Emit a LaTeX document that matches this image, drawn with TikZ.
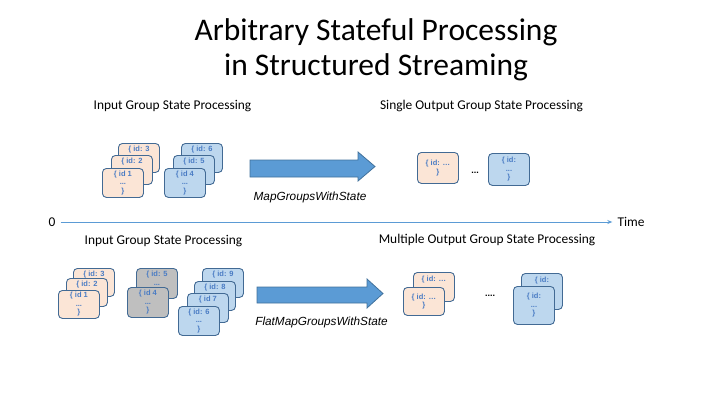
\documentclass[tikz,border=0pt]{standalone}
\usepackage{fontspec}
\setmainfont{Carlito}
\newfontfamily\arialfont{Liberation Sans}
\usetikzlibrary{arrows.meta}
\definecolor{cardborder}{RGB}{66,106,148}
\definecolor{cardtext}{RGB}{74,124,196}
\definecolor{peach}{RGB}{251,229,214}
\definecolor{lightblue}{RGB}{189,215,238}
\definecolor{midgray}{RGB}{191,191,191}
\definecolor{arrowfill}{RGB}{91,155,213}
\definecolor{arrowline}{RGB}{65,113,156}
\tikzset{
  cardfont/.style={font=\arialfont\bfseries\fontsize{7.5bp}{8.6bp}\selectfont, text=cardtext},
  card/.style={draw=cardborder, line width=0.9bp, rounded corners=4bp,
    minimum width=41bp, minimum height=29bp, inner sep=0.5bp, anchor=north west,
    align=center, cardfont},
  peachcard/.style={card, fill=peach},
  bluecard/.style={card, fill=lightblue},
  graycard/.style={card, fill=midgray},
  toplabel/.style={cardfont, anchor=north, inner sep=0pt, align=center},
  heading/.style={font=\fontsize{13.4bp}{16bp}\selectfont, text=black, inner sep=0pt},
  oplabel/.style={font=\arialfont\itshape\fontsize{11.8bp}{14bp}\selectfont, inner sep=0pt},
  bigarrow/.style={fill=arrowfill, draw=arrowline, line width=0.8bp},
  dotsstyle/.style={font=\arialfont\bfseries\fontsize{9bp}{10bp}\selectfont, inner sep=0pt},
}
\begin{document}
\begin{tikzpicture}[x=1bp,y=-1bp]
\useasboundingbox (0,0) rectangle (721,405);

% title
\node[font=\fontsize{31.5bp}{35bp}\selectfont, inner sep=0pt, anchor=base] (title1) at (376,40) {Arbitrary Stateful Processing};
\node[font=\fontsize{31.5bp}{35bp}\selectfont, inner sep=0pt, anchor=base] (title2) at (376,75) {in Structured Streaming};

% headings
\node[heading] (h1) at (172.5,106) {Input Group State Processing};
\node[heading] (h2) at (481.5,106) {Single Output Group State Processing};
\node[heading] (h3) at (163.5,241) {Input Group State Processing};
\node[heading] (h4) at (487,240) {Multiple Output Group State Processing};

% upper input stacks
\node[peachcard] (u3) at (118,143) {};
\node[toplabel] (u3t) at ([yshift=-3bp]u3.north) {\{ id: 3};
\node[peachcard] (u2) at (111,155) {};
\node[toplabel] (u2t) at ([yshift=-3bp]u2.north) {\{ id: 2};
\node[peachcard] (u1) at (102,168) {\{ id 1\\...\\\}};
\node[bluecard] (u6) at (181,143) {};
\node[toplabel] (u6t) at ([yshift=-3bp]u6.north) {\{ id: 6};
\node[bluecard] (u5) at (173,155) {};
\node[toplabel] (u5t) at ([yshift=-3bp]u5.north) {\{ id: 5};
\node[bluecard] (u4) at (164,168) {\{ id 4\\...\\\}};

% upper arrow
\draw[bigarrow] (250,160) -- (358,160) -- (358,152) -- (375,166.5) -- (358,181) -- (358,177) -- (250,177) -- cycle;
\node[oplabel] (op1) at (310,197) {MapGroupsWithState};

% upper outputs
\node[peachcard, minimum height=31bp] (uo1) at (417,152) {\{ id: …\\\}};
\node[dotsstyle] (ud) at (475,173) {...};
\node[bluecard, minimum height=32bp] (uo2) at (488,153) {\{ id:\\...\\\}};

% time axis
\node[heading] (zero) at (52,222) {0};
\node[heading] (time) at (631,222) {Time};
\draw[draw=arrowfill, line width=0.8bp, -{Stealth[length=5bp,width=4bp]}] ([xshift=5bp]zero.east) -- ([xshift=-5bp]time.west);

% lower input stacks
\node[peachcard, minimum height=28bp] (l3) at (73,268) {};
\node[toplabel] (l3t) at ([yshift=-2.5bp]l3.north) {\{ id: 3};
\node[peachcard, minimum height=28bp] (l2) at (66,278) {};
\node[toplabel] (l2t) at ([yshift=-2.5bp]l2.north) {\{ id: 2};
\node[peachcard, minimum height=28bp] (l1) at (58,290) {\{ id 1\\...\\\}};
\node[graycard, minimum height=30bp] (g5) at (136,268) {};
\node[toplabel] (g5t) at ([yshift=-3bp]g5.north) {\{ id: 5\\...};
\node[graycard, minimum height=30bp] (g4) at (127,287) {\{ id 4\\...\\\}};
\node[bluecard] (b9) at (202,268) {};
\node[toplabel] (b9t) at ([yshift=-3bp]b9.north) {\{ id: 9};
\node[bluecard] (b8) at (194,281) {};
\node[toplabel] (b8t) at ([yshift=-3bp]b8.north) {\{ id: 8};
\node[bluecard] (b7) at (187,293) {};
\node[toplabel] (b7t) at ([yshift=-3bp]b7.north) {\{ id 7};
\node[bluecard] (b6) at (178,306) {\{ id: 6\\...\\\}};

% lower arrow
\draw[bigarrow] (257,287) -- (367,287) -- (367,279) -- (383,293.5) -- (367,308) -- (367,303) -- (257,303) -- cycle;
\node[oplabel] (op2) at (321.5,322) {FlatMapGroupsWithState};

% lower outputs
\node[peachcard] (lo2) at (413,272) {};
\node[toplabel] (lo2t) at ([yshift=-4bp]lo2.north) {\{ id: …};
\node[peachcard, minimum height=28bp] (lo1) at (403,287) {\{ id: …\\\}};
\node[dotsstyle] (ld) at (490,296) {....};
\node[bluecard, minimum height=36bp] (lo4) at (521,273) {};
\node[toplabel] (lo4t) at ([yshift=-4bp]lo4.north) {\{ id:};
\node[bluecard, minimum height=38bp] (lo3) at (513,286) {\{ id:\\...\\\}};
\end{tikzpicture}
\end{document}
